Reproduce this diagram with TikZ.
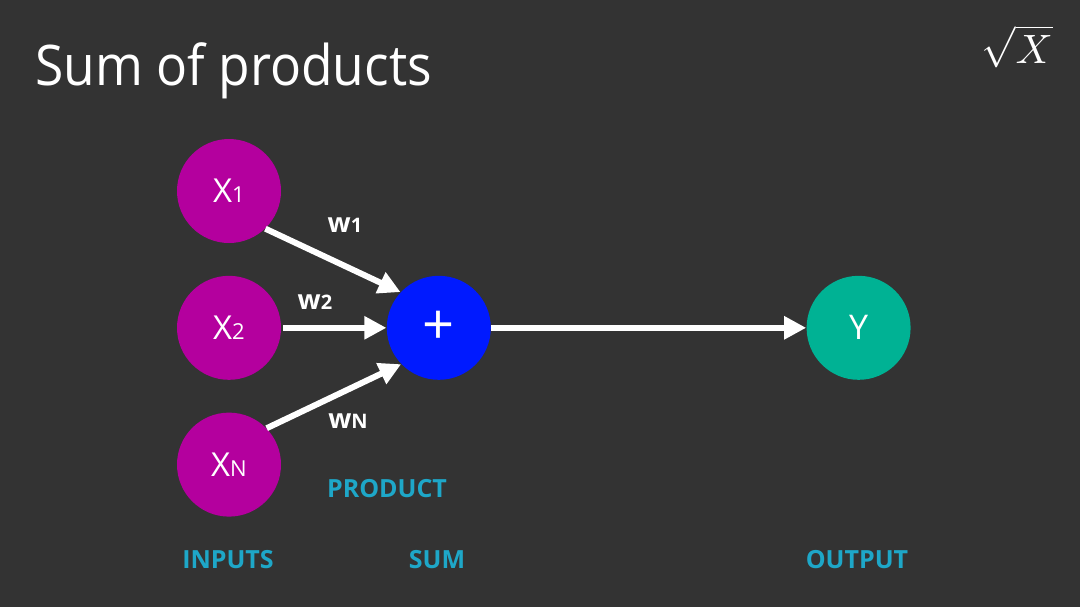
\documentclass[tikz,border=0pt]{standalone}
\usepackage{fontspec}
\setmainfont{Open Sans}
\usetikzlibrary{positioning,arrows.meta}

\definecolor{slide}{RGB}{51,51,51}
\definecolor{inmag}{RGB}{180,0,158}
\definecolor{sumblue}{RGB}{0,26,255}
\definecolor{outgreen}{RGB}{0,178,148}
\definecolor{capcyan}{RGB}{30,167,200}

\begin{document}
\begin{tikzpicture}[
  x=0.5pt, y=-0.5pt,
  node distance=16pt,
  neuron/.style={circle, minimum size=52pt, inner sep=0pt, text=white,
    font=\fontsize{16.5}{18}\selectfont},
  weight/.style={text=white, font=\bfseries\fontsize{13.5}{15}\selectfont},
  caption/.style={text=capcyan, font=\bfseries\fontsize{12.5}{14}\selectfont},
  arrow/.style={-{Triangle[length=11pt,width=11pt]}, white, line width=3pt},
]
  \fill[slide] (0,0) rectangle (1080,607);
  \useasboundingbox (0,0) rectangle (1080,607);

  \node[anchor=base west, text=white, inner sep=0pt, xscale=0.92, font=\fontsize{28}{34}\selectfont] (title) at (35,85) {Sum of products};
  \node[anchor=base, text=white, inner sep=0pt, scale=2.05] (root) at (1017,63) {$\sqrt{X}$};

  \node[neuron, fill=inmag] (x1) at (229,191) {X{\fontsize{11}{12}\selectfont 1}};
  \node[neuron, fill=inmag, below=of x1] (x2) {X{\fontsize{11}{12}\selectfont 2}};
  \node[neuron, fill=inmag, below=of x2] (xn) {X{\fontsize{11}{12}\selectfont N}};
  \node[neuron, fill=sumblue, right=52.5pt of x2, font=\fontsize{28}{30}\selectfont] (sum) {+};
  \node[neuron, fill=outgreen, right=157.5pt of sum, font=\fontsize{17}{19}\selectfont] (y) {Y};

  \draw[arrow] (x1.-46) -- (sum.137);
  \draw[arrow, shorten <=1pt] (x2.east) -- (sum.west);
  \draw[arrow] (xn.44) -- (sum.-136);
  \draw[arrow] (sum.east) -- (y.west);

  \node[weight] (w1) at (345,225) {w{\fontsize{10}{12}\selectfont 1}};
  \node[weight] (w2) at (315,302) {w{\fontsize{10}{12}\selectfont 2}};
  \node[weight] (wn) at (348,421) {w{\fontsize{10}{12}\selectfont N}};

  \node[caption] (product) at (387,489) {PRODUCT};
  \node[caption] (inputs) at (228,560) {INPUTS};
  \node[caption] (sumlabel) at (437,560) {SUM};
  \node[caption] (output) at (857,560) {OUTPUT};
\end{tikzpicture}
\end{document}
